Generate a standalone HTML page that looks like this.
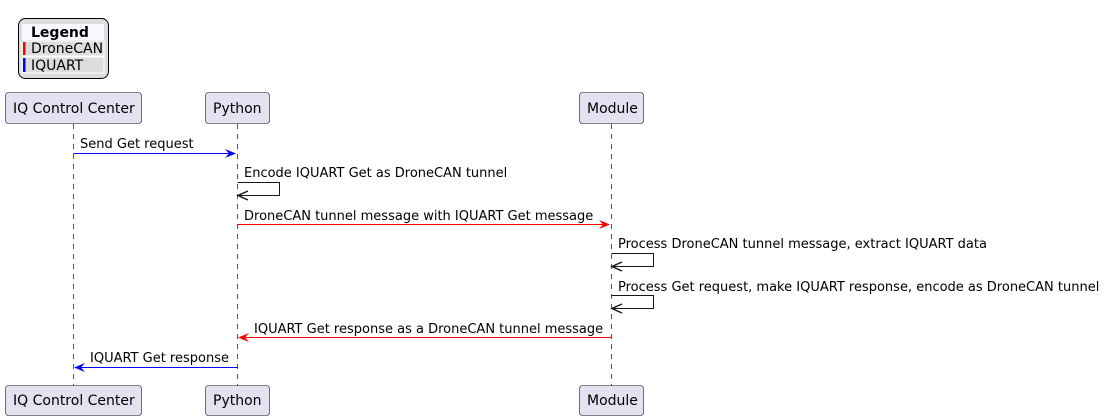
<!DOCTYPE html>
<html><head><meta charset="utf-8"><style>
html,body{margin:0;padding:0;background:#fff;}
svg{display:block;}
text{font-family:"DejaVu Sans","Liberation Sans",sans-serif;font-size:13px;fill:#000;}
.p{font-size:14px;}
</style></head><body>
<svg width="1109" height="420" viewBox="0 0 1109 420" xmlns="http://www.w3.org/2000/svg">
<!-- legend -->
<rect x="18.5" y="18.5" width="90" height="60" rx="7" fill="#dddddd" stroke="#000" stroke-width="1"/>
<rect x="22" y="24" width="82" height="16" fill="#f8f8ff"/>
<rect x="22" y="41" width="82" height="15" fill="#dddddd" stroke="#fff" stroke-width="1"/>
<rect x="22" y="57" width="82" height="16" fill="#dddddd" stroke="#fff" stroke-width="1"/>
<rect x="23" y="42" width="2.5" height="13" fill="#ff0000"/>
<rect x="23" y="58" width="2.5" height="14" fill="#0000ff"/>
<text class="p" x="31" y="37" font-weight="bold">Legend</text>
<text class="p" x="31" y="53">DroneCAN</text>
<text class="p" x="31" y="70">IQUART</text>

<!-- lifelines -->
<g stroke="#555" stroke-width="1" stroke-dasharray="5,5">
<line x1="73.5" y1="124" x2="73.5" y2="386"/>
<line x1="237.5" y1="124" x2="237.5" y2="386"/>
<line x1="611.5" y1="124" x2="611.5" y2="386"/>
</g>

<!-- participants -->
<g fill="#e2e2f0" stroke="#181818" stroke-width="0.6">
<rect x="5.5" y="92.5" width="136" height="31" rx="3"/>
<rect x="205.5" y="92.5" width="64" height="31" rx="3"/>
<rect x="579.5" y="92.5" width="64" height="31" rx="3"/>
<rect x="5.5" y="385.5" width="136" height="30" rx="3"/>
<rect x="205.5" y="385.5" width="64" height="30" rx="3"/>
<rect x="579.5" y="385.5" width="64" height="30" rx="3"/>
</g>
<text class="p" x="13" y="113">IQ Control Center</text>
<text class="p" x="213" y="113">Python</text>
<text class="p" x="587" y="113">Module</text>
<text class="p" x="13" y="405">IQ Control Center</text>
<text class="p" x="213" y="405">Python</text>
<text class="p" x="587" y="405">Module</text>

<!-- messages -->
<text x="80" y="148">Send Get request</text>
<line x1="73.5" y1="153.5" x2="235" y2="153.5" stroke="#0000ff"/>
<path d="M225,149 L236,153.5 L225,158 L229,153.5 Z" fill="#0000ff"/>

<text x="244" y="177">Encode IQUART Get as DroneCAN tunnel</text>
<path d="M237.5,182.5 H279.5 V195.5 H238" fill="none" stroke="#181818"/>
<path d="M248,191 L238,195.5 L248,200" fill="none" stroke="#181818" stroke-width="1.5"/>

<text x="244" y="220">DroneCAN tunnel message with IQUART Get message</text>
<line x1="237.5" y1="224.5" x2="609" y2="224.5" stroke="#ff0000"/>
<path d="M599,220 L610,224.5 L599,229 L603,224.5 Z" fill="#ff0000"/>

<text x="618" y="248">Process DroneCAN tunnel message, extract IQUART data</text>
<path d="M611.5,253.5 H653.5 V266.5 H612" fill="none" stroke="#181818"/>
<path d="M622,262 L612,266.5 L622,271" fill="none" stroke="#181818" stroke-width="1.5"/>

<text x="618" y="291">Process Get request, make IQUART response, encode as DroneCAN tunnel</text>
<path d="M611.5,295.5 H653.5 V308.5 H612" fill="none" stroke="#181818"/>
<path d="M622,304 L612,308.5 L622,313" fill="none" stroke="#181818" stroke-width="1.5"/>

<text x="254" y="333">IQUART Get response as a DroneCAN tunnel message</text>
<line x1="240" y1="337.5" x2="611.5" y2="337.5" stroke="#ff0000"/>
<path d="M249,333 L238,337.5 L249,342 L245,337.5 Z" fill="#ff0000"/>

<text x="90" y="362">IQUART Get response</text>
<line x1="76" y1="367.5" x2="237.5" y2="367.5" stroke="#0000ff"/>
<path d="M85,363 L74,367.5 L85,372 L81,367.5 Z" fill="#0000ff"/>
</svg>
</body></html>
